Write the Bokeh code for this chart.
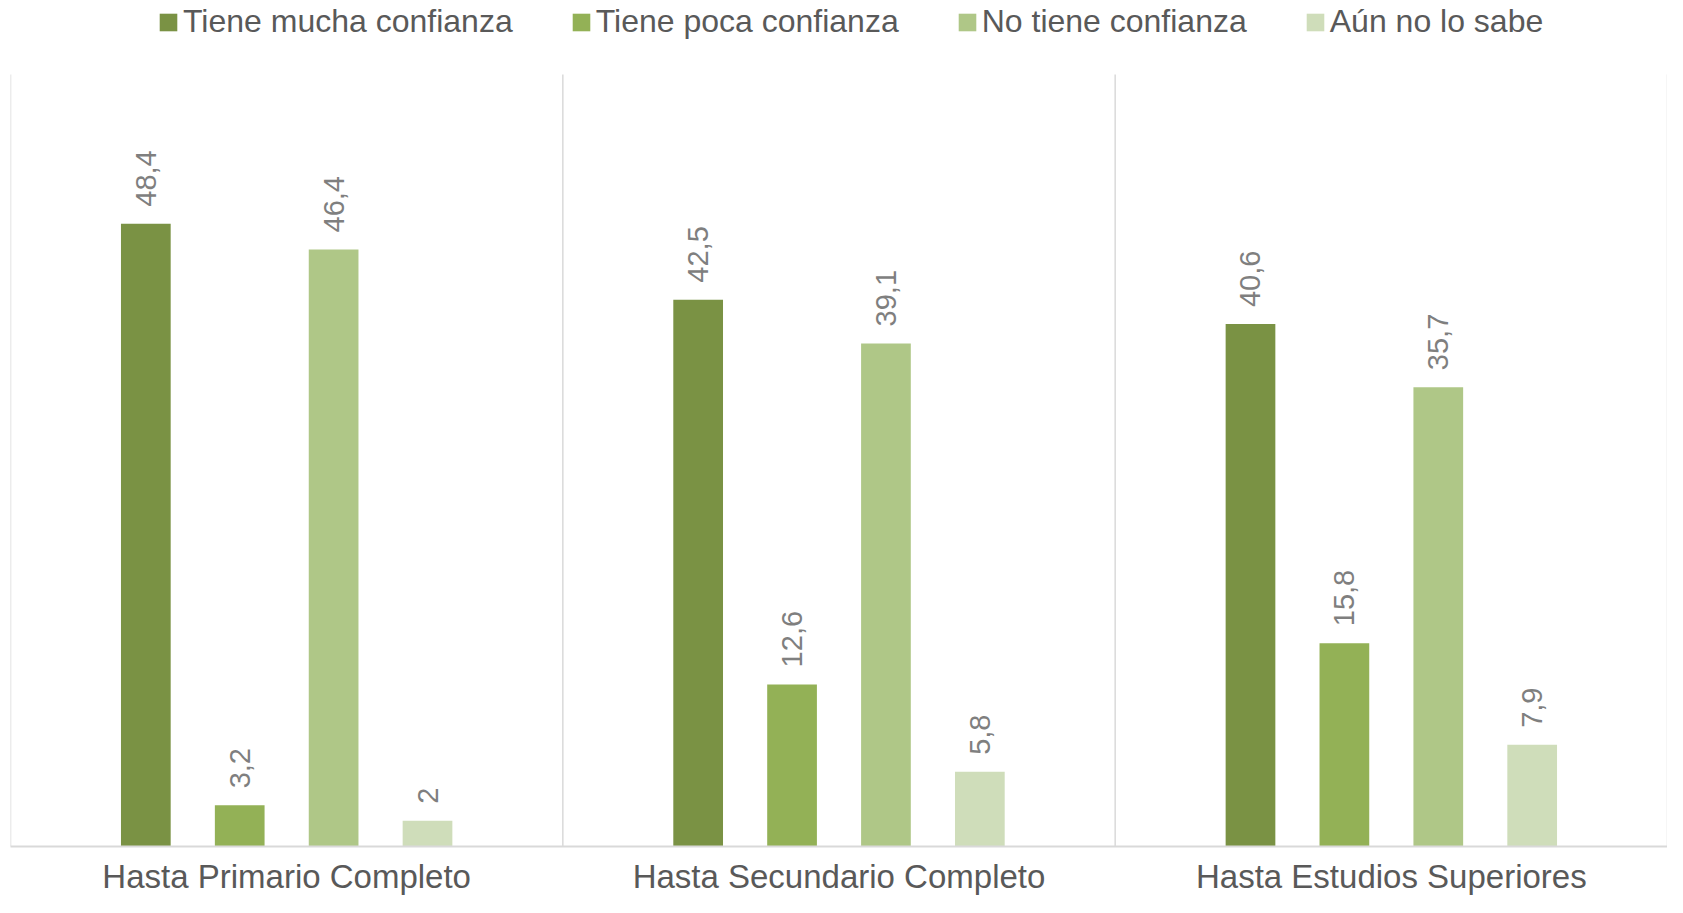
import math
from bokeh.plotting import figure
from bokeh.models import ColumnDataSource, FactorRange, Range1d, Legend, LegendItem
from bokeh.transform import dodge
from bokeh.core.properties import value
from bokeh.embed import file_html
from bokeh.resources import INLINE

categories = ["Hasta Primario Completo", "Hasta Secundario Completo", "Hasta Estudios Superiores"]
series_names = ["Tiene mucha confianza", "Tiene poca confianza", "No tiene confianza", "Aún no lo sabe"]
mucha = [48.4, 42.5, 40.6]
poca = [3.2, 12.6, 15.8]
no_tiene = [46.4, 39.1, 35.7]
aun_no = [2, 5.8, 7.9]
colors = ["#7A9244", "#93B156", "#AFC787", "#CFDDBA"]

Y_MAX = 60


def fmt(v):
    s = ("%g" % v)
    return s.replace(".", ",")


data = {"cat": categories}
keys = ["mucha", "poca", "no_tiene", "aun_no"]
for k, vals in zip(keys, [mucha, poca, no_tiene, aun_no]):
    data[k] = vals
    data[k + "_lbl"] = [fmt(v) for v in vals]
source = ColumnDataSource(data)

FRAME_H = 846
# top 74 px of the frame are reserved for the legend (above the value 60 line)
y_end = Y_MAX * FRAME_H / (FRAME_H - 74)
p = figure(x_range=FactorRange(factors=categories), y_range=Range1d(0, y_end),
           width=1667, height=897, frame_width=1657, frame_height=FRAME_H,
           output_backend="svg", toolbar_location=None,
           min_border_left=10, min_border_right=0, min_border_top=0, min_border_bottom=40)

offsets = [-0.255, -0.085, 0.085, 0.255]
bar_w = 0.09
renderers = []
for k, off, c in zip(keys, offsets, colors):
    r = p.vbar(x=dodge("cat", off, range=p.x_range), top=k, width=bar_w, bottom=0,
               source=source, fill_color=c, line_color=None)
    renderers.append(r)
    p.text(x=dodge("cat", off, range=p.x_range), y=k, text=k + "_lbl", source=source,
           angle=math.pi / 2, text_align="left", text_baseline="middle", y_offset=-17,
           text_font=value("Liberation Sans"), text_font_size="29px", text_color="#7F7F7F")

sep_x = list(range(len(categories) + 1))
p.segment(x0=sep_x, y0=[0] * len(sep_x), x1=sep_x, y1=[Y_MAX] * len(sep_x),
          line_color="#D9D9D9", line_width=1.5)

p.yaxis.visible = False
p.xgrid.grid_line_color = None
p.ygrid.grid_line_color = None
p.outline_line_color = None

ax = p.xaxis[0]
ax.axis_line_color = "#D9D9D9"
ax.axis_line_width = 2
ax.major_tick_line_color = None
ax.minor_tick_line_color = None
ax.major_tick_out = 0
ax.major_label_standoff = 11
ax.major_label_text_font = "Liberation Sans"
ax.major_label_text_font_size = "33px"
ax.major_label_text_color = "#595959"

legend = Legend(items=[LegendItem(label=n, renderers=[r]) for n, r in zip(series_names, renderers)],
                orientation="horizontal", location=(147, FRAME_H - 40))
legend.border_line_color = None
legend.background_fill_alpha = 0
legend.padding = 0
legend.margin = 0
legend.spacing = 57
legend.glyph_width = 22
legend.glyph_height = 22
legend.label_standoff = 4
legend.label_text_font = "Liberation Sans"
legend.label_text_font_size = "32px"
legend.label_text_color = "#595959"
p.add_layout(legend, "center")

open("out.html", "w").write(file_html(p, INLINE))
